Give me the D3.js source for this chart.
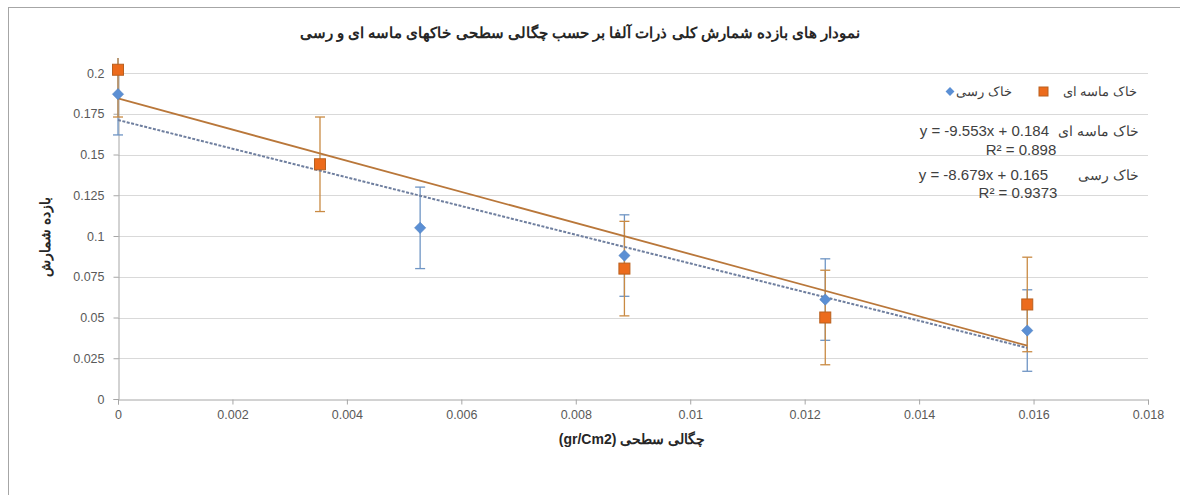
<!DOCTYPE html>
<html>
<head>
<meta charset="utf-8">
<script src="https://cdn.jsdelivr.net/npm/d3@7"></script>
<style>
  body { margin: 0; background: #fff; }
  text { font-family: "Liberation Sans", Arial, sans-serif; }
</style>
</head>
<body>
<div id="chart"></div>
<script>
// values
let clayX = [0, 0.00528, 0.00885, 0.01236, 0.01589],
  clayY = [0.187, 0.105, 0.088, 0.061, 0.042],
  clayErr = [0.025, 0.025, 0.025, 0.025, 0.025];

let sandX = [0, 0.00353, 0.00885, 0.01236, 0.01589],
  sandY = [0.202, 0.144, 0.080, 0.050, 0.058],
  sandErr = [0.029, 0.029, 0.029, 0.029, 0.029];

let xTicks = [0, 0.002, 0.004, 0.006, 0.008, 0.01, 0.012, 0.014, 0.016, 0.018],
  yTicks = [0, 0.025, 0.05, 0.075, 0.1, 0.125, 0.15, 0.175, 0.2];

let titleText = 'نمودار های بازده شمارش کلی ذرات آلفا بر حسب چگالی سطحی خاکهای  ماسه ای و رسی',
  xTitle = 'چگالی سطحی  (gr/Cm2)',
  yTitle = 'بازده شمارش',
  sandName = 'خاک ماسه ای',
  clayName = 'خاک رسی',
  sandEq = ['y = -9.553x + 0.184', 'R² = 0.898'],
  clayEq = ['y = -8.679x + 0.165', 'R² = 0.9373'];

let W = 1180, H = 495;
let margin = { top: 73, left: 118, right: 32, bottom: 96 };

let svg = d3.select('#chart')
  .append('svg')
  .attr('width', W)
  .attr('height', H);

// outer chart border
svg.append('rect')
  .attr('x', 8.5).attr('y', 7.5)
  .attr('width', W).attr('height', H)
  .attr('fill', 'none')
  .attr('stroke', '#a6a6a6');

let x = d3.scaleLinear().domain([0, 0.018]).range([margin.left, W - margin.right]);
let y = d3.scaleLinear().domain([0, 0.2]).range([H - margin.bottom, margin.top]);

// gridlines
svg.append('g')
  .selectAll('line')
  .data(yTicks.slice(1))
  .join('line')
  .attr('x1', x(0)).attr('x2', x(0.018))
  .attr('y1', d => Math.round(y(d)) + 0.5).attr('y2', d => Math.round(y(d)) + 0.5)
  .attr('stroke', '#d9d9d9');

// axes
let xAxis = svg.append('g')
  .attr('transform', `translate(0,${Math.round(y(0)) + 0.5})`)
  .call(d3.axisBottom(x).tickValues(xTicks).tickFormat(d => String(+d.toFixed(3))).tickSize(5).tickPadding(6));
let yAxis = svg.append('g')
  .attr('transform', `translate(${Math.round(x(0)) + 0.5},0)`)
  .call(d3.axisLeft(y).tickValues(yTicks).tickFormat(d => String(+d.toFixed(3))).tickSize(5).tickPadding(9));

[xAxis, yAxis].forEach(a => {
  a.select('.domain').attr('stroke', '#a6a6a6');
  a.selectAll('.tick line').attr('stroke', '#a6a6a6');
  a.selectAll('.tick text').attr('fill', '#595959').style('font-size', '12.5px');
});

// clip for error bars / marks
svg.append('clipPath').attr('id', 'plot')
  .append('rect')
  .attr('x', margin.left - 10).attr('y', 58)
  .attr('width', W - margin.left - margin.right + 20).attr('height', y(0) - 58);

let g = svg.append('g').attr('clip-path', 'url(#plot)');

// least squares trendline through the series
function fit(xs, ys) {
  let mx = d3.mean(xs), my = d3.mean(ys);
  let sxy = d3.sum(xs, (v, i) => (v - mx) * (ys[i] - my));
  let sxx = d3.sum(xs, v => (v - mx) * (v - mx));
  let m = sxy / sxx;
  return { m: m, b: my - m * mx };
}

function errorBars(xs, ys, es, color) {
  let eg = g.append('g').attr('stroke', color).attr('stroke-width', 1.3);
  xs.forEach((v, i) => {
    let px = x(v), lo = y(ys[i] - es[i]), hi = y(ys[i] + es[i]);
    eg.append('line').attr('x1', px).attr('x2', px).attr('y1', lo).attr('y2', hi);
    eg.append('line').attr('x1', px - 5).attr('x2', px + 5).attr('y1', lo).attr('y2', lo);
    eg.append('line').attr('x1', px - 5).attr('x2', px + 5).attr('y1', hi).attr('y2', hi);
  });
}

errorBars(clayX, clayY, clayErr, '#6f95c4');
errorBars(sandX, sandY, sandErr, '#c98a43');

// trendlines
let clayFit = fit(clayX, clayY), sandFit = fit(sandX, sandY);
let xEnd = d3.max(clayX);
g.append('line')
  .attr('x1', x(0)).attr('y1', y(clayFit.b))
  .attr('x2', x(xEnd)).attr('y2', y(clayFit.b + clayFit.m * xEnd))
  .attr('stroke', '#6f7f9f').attr('stroke-width', 2)
  .attr('stroke-dasharray', '3,1.5');
g.append('line')
  .attr('x1', x(0)).attr('y1', y(sandFit.b))
  .attr('x2', x(xEnd)).attr('y2', y(sandFit.b + sandFit.m * xEnd))
  .attr('stroke', '#b9773a').attr('stroke-width', 1.8);

// markers
let diamond = d3.symbol().type(d3.symbolDiamond2).size(80);
g.append('g')
  .selectAll('path')
  .data(clayX)
  .join('path')
  .attr('d', diamond)
  .attr('transform', (d, i) => `translate(${x(d)},${y(clayY[i])})`)
  .attr('fill', '#5b8fd4')
  .attr('stroke', '#4f80c0').attr('stroke-width', 0.6);

g.append('g')
  .selectAll('rect')
  .data(sandX)
  .join('rect')
  .attr('x', d => x(d) - 5.5)
  .attr('y', (d, i) => y(sandY[i]) - 5.5)
  .attr('width', 11).attr('height', 11)
  .attr('fill', '#ec6b1c')
  .attr('stroke', '#b9601f').attr('stroke-width', 1);

// titles
svg.append('text')
  .attr('x', 580).attr('y', 38)
  .attr('text-anchor', 'middle')
  .attr('direction', 'rtl')
  .style('font-size', '15px').style('font-weight', 'bold')
  .attr('fill', '#262626')
  .text(titleText);

svg.append('text')
  .attr('x', 632).attr('y', 444)
  .attr('text-anchor', 'middle')
  .attr('direction', 'rtl')
  .style('font-size', '14px').style('font-weight', 'bold')
  .attr('fill', '#262626')
  .text(xTitle);

svg.append('text')
  .attr('transform', 'translate(50,237) rotate(-90)')
  .attr('text-anchor', 'middle')
  .style('font-size', '14px').style('font-weight', 'bold')
  .attr('fill', '#262626')
  .text(yTitle);

// legend
let lg = svg.append('g').style('font-size', '13px').attr('fill', '#404040');
lg.append('text').attr('x', 1137).attr('y', 96).attr('text-anchor', 'end').text(sandName);
lg.append('rect').attr('x', 1039).attr('y', 87).attr('width', 9).attr('height', 9)
  .attr('fill', '#ec6b1c').attr('stroke', '#b9601f');
lg.append('text').attr('x', 1012).attr('y', 96).attr('text-anchor', 'end').text(clayName);
lg.append('path').attr('d', d3.symbol().type(d3.symbolDiamond2).size(50))
  .attr('transform', 'translate(950,91.5)').attr('fill', '#5b8fd4');

// equations
let eq = svg.append('g').style('font-size', '15px').attr('fill', '#404040');
eq.append('text').attr('x', 1139).attr('y', 136).attr('text-anchor', 'end').style('font-size', '13.5px').text(sandName);
eq.append('text').attr('x', 1049).attr('y', 136).attr('text-anchor', 'end').text(sandEq[0]);
eq.append('text').attr('x', 1021).attr('y', 155).attr('text-anchor', 'middle').text(sandEq[1]);
eq.append('text').attr('x', 1139).attr('y', 180).attr('text-anchor', 'end').style('font-size', '13.5px').text(clayName);
eq.append('text').attr('x', 1048).attr('y', 180).attr('text-anchor', 'end').text(clayEq[0]);
eq.append('text').attr('x', 1018).attr('y', 198).attr('text-anchor', 'middle').text(clayEq[1]);
</script>
</body>
</html>
